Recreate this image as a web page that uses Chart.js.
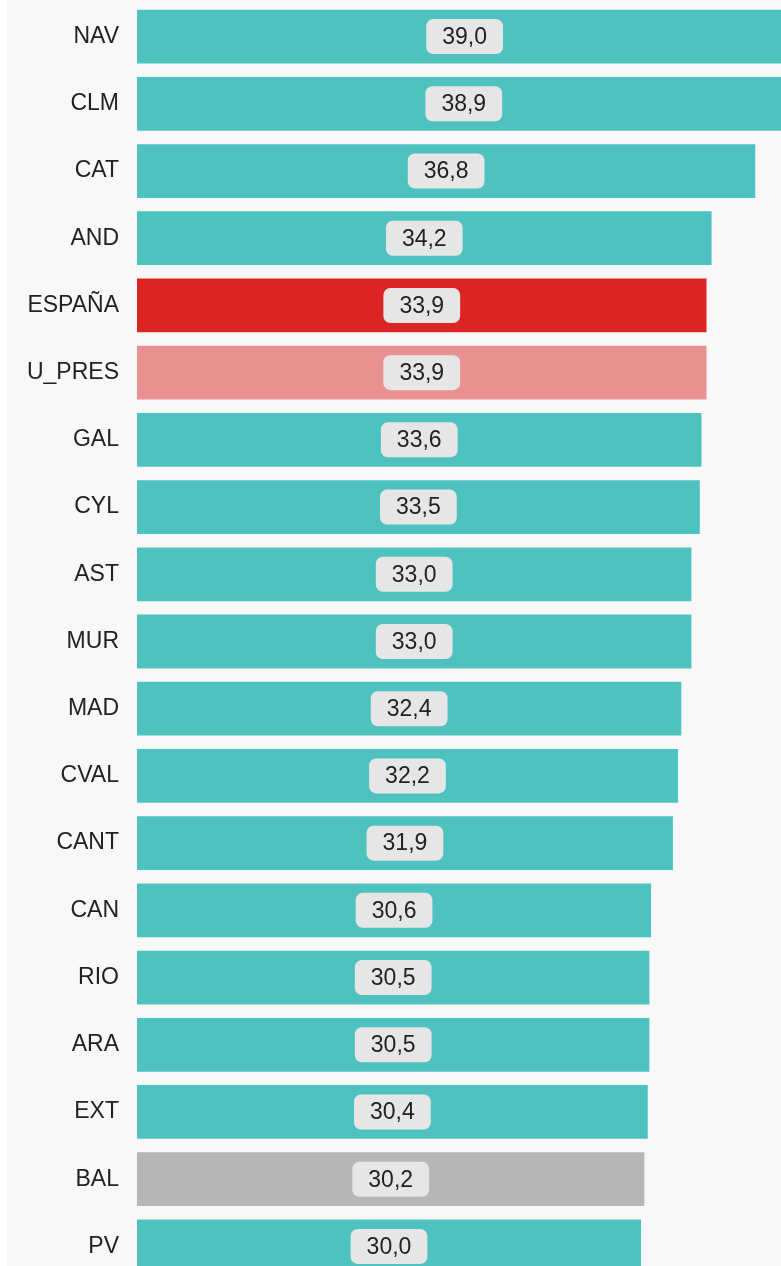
<!DOCTYPE html>
<html>
<head>
<meta charset="utf-8">
<script src="https://cdn.jsdelivr.net/npm/chart.js@4.4.1/dist/chart.umd.min.js"></script>
<style>
  html, body { margin: 0; padding: 0; overflow: hidden; background: #ffffff; }
  .chart-box { position: absolute; left: 7px; top: 0; width: 802px; height: 1280px; background: #f8f8f8; }
</style>
</head>
<body>
<div class="chart-box"><canvas id="chart"></canvas></div>
<script>
const regions = ['NAV', 'CLM', 'CAT', 'AND', 'ESPAÑA', 'U_PRES', 'GAL', 'CYL', 'AST', 'MUR',
  'MAD', 'CVAL', 'CANT', 'CAN', 'RIO', 'ARA', 'EXT', 'BAL', 'PV'];
const values = [39.0, 38.9, 36.8, 34.2, 33.9, 33.9, 33.6, 33.5, 33.0, 33.0,
  32.4, 32.2, 31.9, 30.6, 30.5, 30.5, 30.4, 30.2, 30.0];

const FONT = '"Liberation Sans", Arial, sans-serif';

const barColor = (name) => {
  if (name === 'ESPAÑA') return '#dc2424';
  if (name === 'U_PRES') return '#e99190';
  if (name === 'BAL') return '#b6b6b6';
  return '#4ec2bf';
};

const fmt = (v) => v.toFixed(1).replace('.', ',');

// draws the grey rounded value tags in the middle of each bar
const valueTags = {
  id: 'valueTags',
  afterDatasetsDraw(chart) {
    const ctx = chart.ctx;
    const meta = chart.getDatasetMeta(0);
    ctx.save();
    ctx.font = '23px ' + FONT;
    ctx.textAlign = 'center';
    ctx.textBaseline = 'middle';
    meta.data.forEach((bar, i) => {
      const txt = fmt(values[i]);
      const cx = (bar.base + bar.x) / 2;
      const cy = bar.y;
      const w = ctx.measureText(txt).width + 32;
      const h = 35;
      ctx.fillStyle = '#e6e6e6';
      ctx.beginPath();
      ctx.roundRect(cx - w / 2, cy - h / 2, w, h, 7);
      ctx.fill();
      ctx.fillStyle = '#222222';
      ctx.fillText(txt, cx, cy + 1);
    });
    ctx.restore();
  }
};

new Chart(document.getElementById('chart'), {
  type: 'bar',
  data: {
    labels: regions,
    datasets: [{
      data: values,
      backgroundColor: regions.map(barColor),
      borderWidth: 0,
      categoryPercentage: 0.8,
      barPercentage: 1.0
    }]
  },
  options: {
    indexAxis: 'y',
    responsive: true,
    maintainAspectRatio: false,
    animation: false,
    layout: { padding: { top: 3, right: 0, bottom: 0, left: 0 } },
    plugins: {
      legend: { display: false },
      tooltip: { enabled: false }
    },
    scales: {
      x: {
        min: 0,
        max: 40,
        display: false
      },
      y: {
        grid: { display: false, drawTicks: false },
        border: { display: false },
        ticks: {
          padding: 18,
          color: '#222222',
          font: { family: FONT, size: 23 }
        },
        afterFit(scale) {
          scale.width = 130;
          scale.paddingTop = 0;
          scale.paddingBottom = 0;
        }
      }
    }
  },
  plugins: [valueTags]
});
</script>
</body>
</html>
